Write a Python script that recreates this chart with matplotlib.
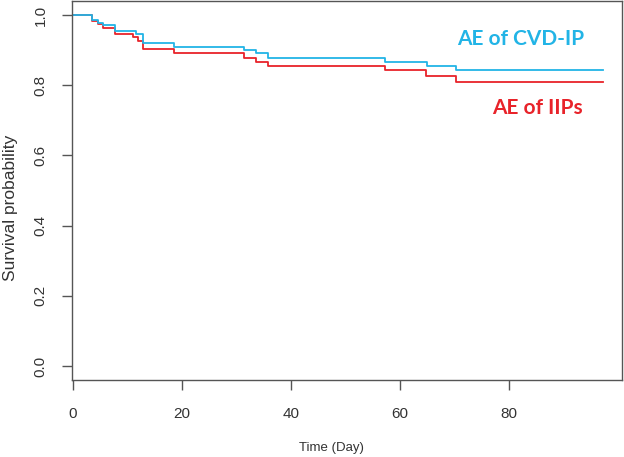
import matplotlib
matplotlib.use("Agg")
import matplotlib.pyplot as plt

plt.rcParams["font.family"] = ["Liberation Sans", "DejaVu Sans"]

# 生存曲线数据
cvd_days = [0, 3.4, 4.5, 5.6, 7.7, 11.5, 12.9, 18.6, 31.5, 33.6, 35.9, 57.4, 65.0, 70.3, 97.3]
cvd_surv = [1.0, 0.987, 0.978, 0.971, 0.955, 0.947, 0.919, 0.908, 0.900, 0.891, 0.878, 0.867, 0.856, 0.842, 0.842]

iip_days = [0, 3.4, 4.5, 5.6, 7.7, 11.1, 12.0, 12.9, 18.5, 31.4, 33.6, 35.8, 57.4, 64.8, 70.3, 97.3]
iip_surv = [1.0, 0.983, 0.974, 0.964, 0.946, 0.938, 0.926, 0.902, 0.892, 0.878, 0.867, 0.856, 0.842, 0.825, 0.810, 0.810]

x_ticks = [0, 20, 40, 60, 80]
y_ticks = [0.0, 0.2, 0.4, 0.6, 0.8, 1.0]

cyan = "#22B4E6"
red = "#E8232A"
frame = "#555555"

fig = plt.figure(figsize=(6.24, 4.57), dpi=100)
ax = fig.add_axes([0.1149, 0.1685, 0.8824, 0.8293])

ax.step(iip_days, iip_surv, where="post", color=red, lw=1.3)
ax.step(cvd_days, cvd_surv, where="post", color=cyan, lw=1.3)

ax.set_xlim(-0.24, 100.9)
ax.set_ylim(-0.04, 1.04)
ax.set_xticks(x_ticks)
ax.set_yticks(y_ticks)
ax.set_xticklabels([str(t) for t in x_ticks])
ax.set_yticklabels(["%.1f" % t for t in y_ticks], rotation=90, va="center")

for s in ax.spines.values():
    s.set_color(frame)
    s.set_linewidth(1.0)
ax.tick_params(axis="both", length=7.5, width=1.0, color=frame,
               labelsize=11, labelcolor="#333333")
ax.tick_params(axis="x", pad=12)
ax.tick_params(axis="y", pad=10)

ax.set_xlabel("Time (Day)", fontsize=9.5, color="#333333", va="center")
ax.set_ylabel("Survival probability", fontsize=12.5, color="#333333", va="center")
ax.xaxis.set_label_coords(0.471, -0.179)
ax.yaxis.set_label_coords(-0.112, 0.455)

ax.text(82.3, 0.931, "AE of CVD-IP", color=cyan, fontsize=15, fontweight="bold",
        family=["Lato", "DejaVu Sans"], ha="center", va="center")
ax.text(85.3, 0.734, "AE of IIPs", color=red, fontsize=15, fontweight="bold",
        family=["Lato", "DejaVu Sans"], ha="center", va="center")

fig.savefig("out.png", dpi=100)
